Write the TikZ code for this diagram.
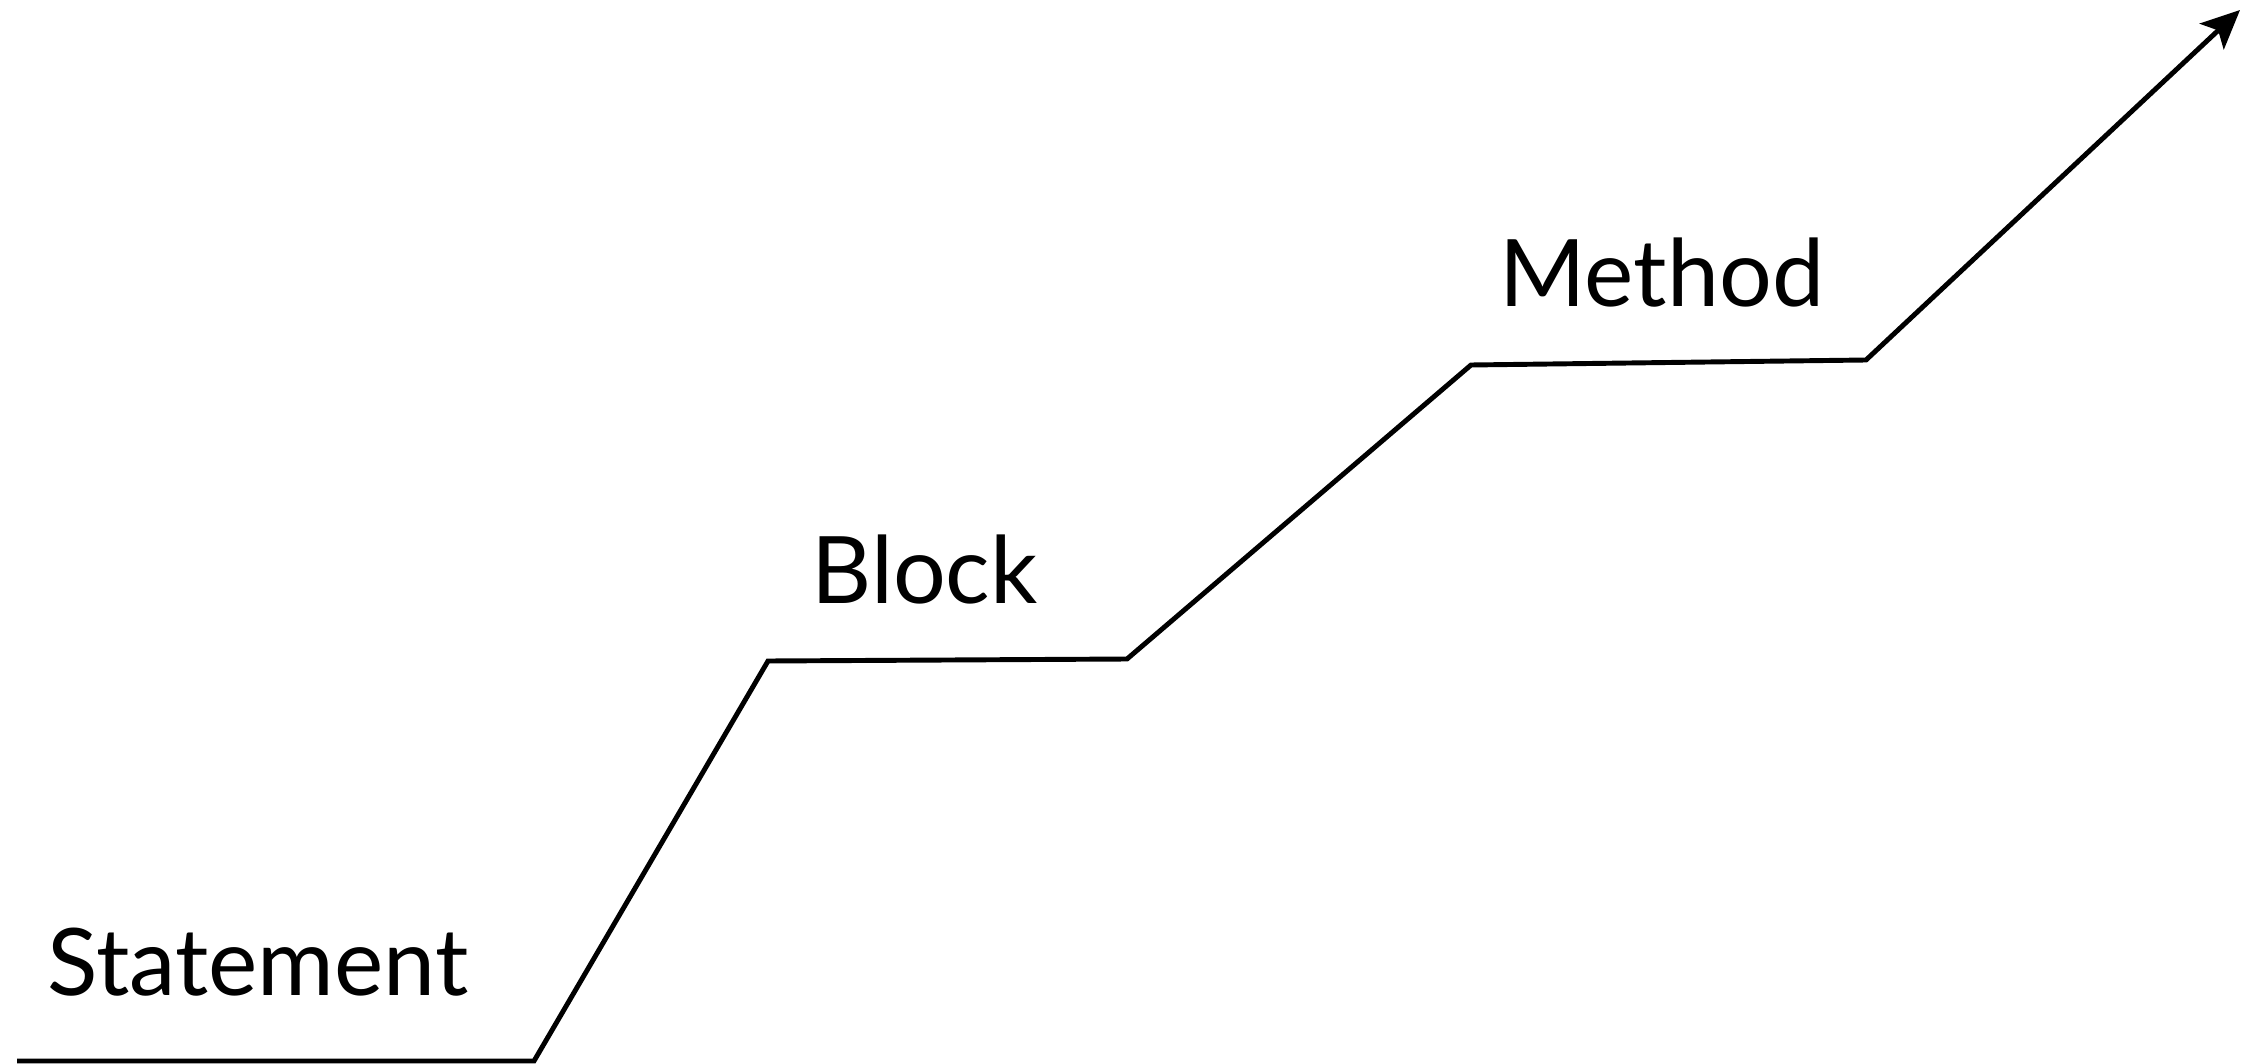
\documentclass[tikz,border=0pt]{standalone}
\usepackage{fontspec}
\setmainfont{Lato}
\usetikzlibrary{arrows.meta}
\tikzset{
	stair/.style={line width=1.4pt, line join=miter},
	steplabel/.style={anchor=base west, inner sep=0pt, font=\fontsize{26.5}{28}\selectfont}
}
\begin{document}
\begin{tikzpicture}[x=0.01cm, y=-0.01cm]
				\useasboundingbox (0,0) rectangle (2252,1064);
				% corners of the staircase
				\coordinate (s0) at (17,1061);
				\coordinate (s1) at (534,1061);
				\coordinate (s2) at (768,661);
				\coordinate (s3) at (1127,659);
				\coordinate (s4) at (1471,365);
				\coordinate (s5) at (1866,360);
				\coordinate (top) at (2240,10);
				\draw[stair, -{Stealth[length=11pt,width=10pt,inset=2.5pt]}] (s0)--(s1)--(s2)--(s3)--(s4)--(s5)--(top);
				% one label per level
				\node[steplabel] (statement) at (47,995) {Statement};
				\node[steplabel] (block) at (811,603) {Block};
				\node[steplabel] (method) at (1499,307) {Method};
			\end{tikzpicture}
\end{document}
